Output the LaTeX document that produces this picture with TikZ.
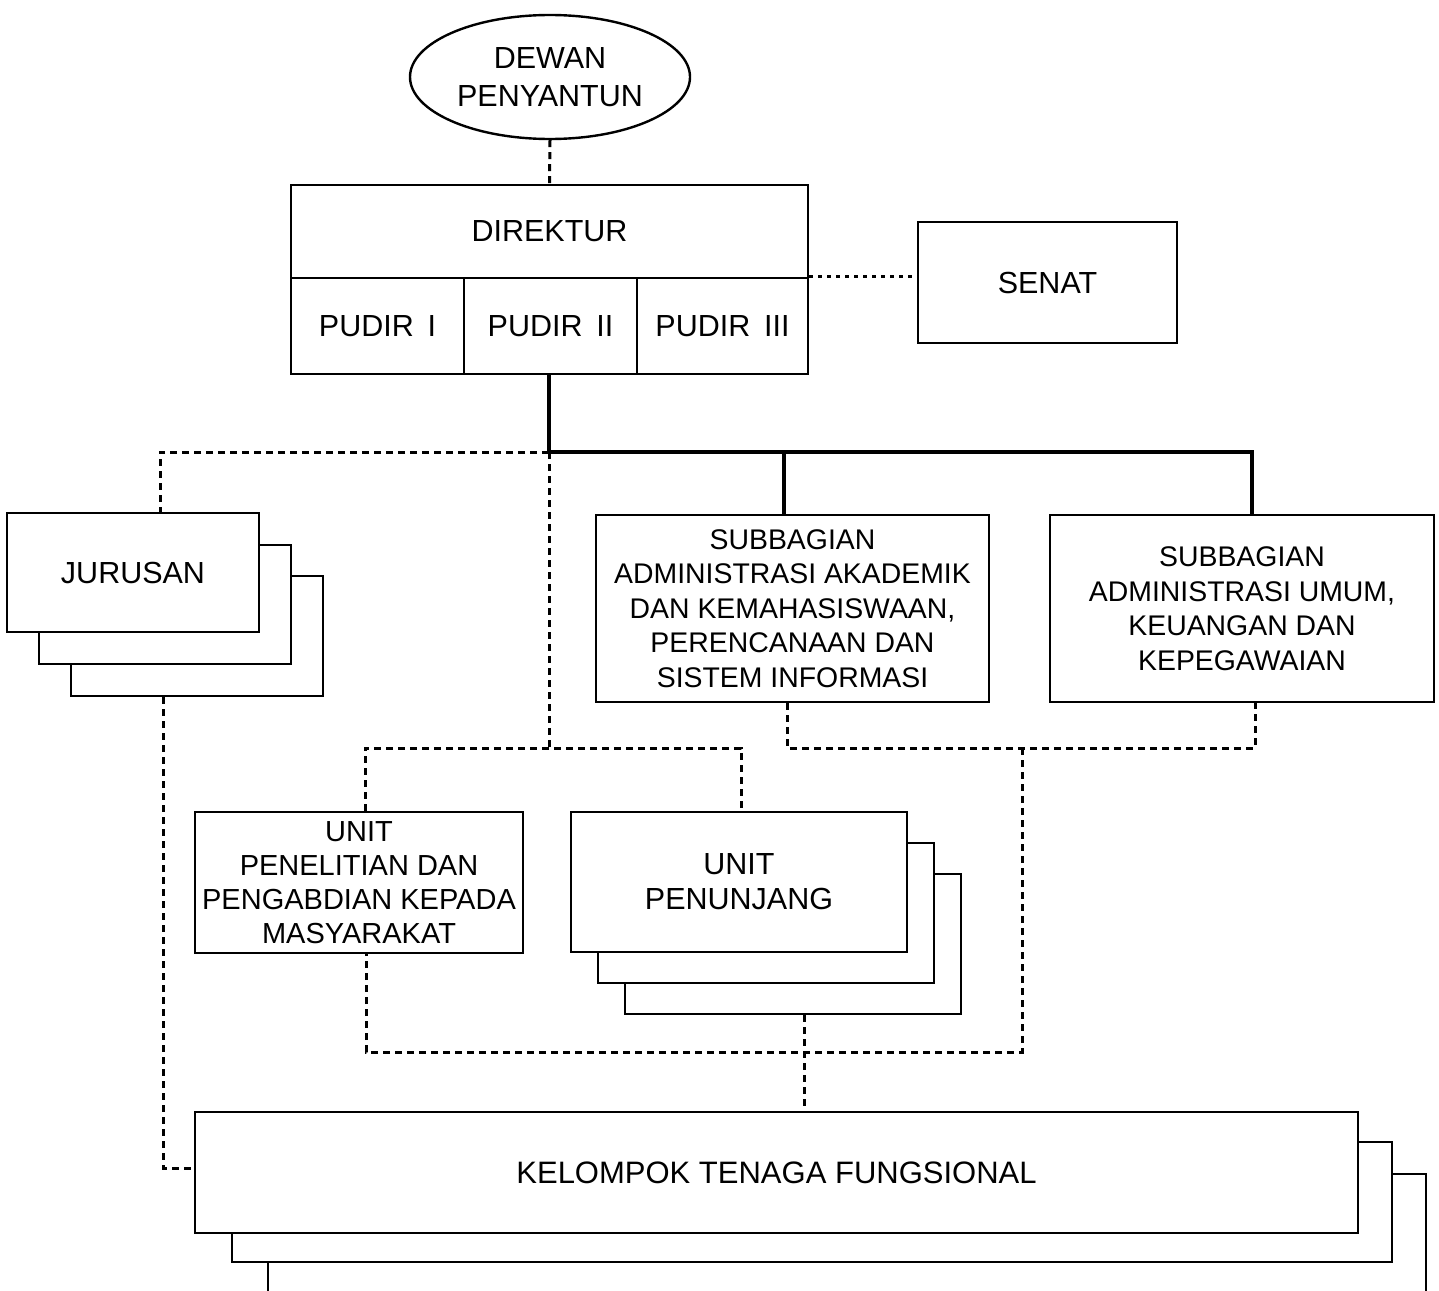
\documentclass[tikz,border=0pt]{standalone}
\usepackage{fontspec}
\setmainfont{Liberation Sans}
\usetikzlibrary{shapes.geometric}
\begin{document}
\begin{tikzpicture}[x=1pt,y=-1pt,
  box/.style={draw, line width=2.7pt, fill=white, inner sep=0pt, align=center,
              font=\fontsize{30.5}{35}\selectfont},
  smallbox/.style={box, font=\fontsize{28.4}{34.5}\selectfont},
  conn/.style={line width=3pt, dash pattern=on 7pt off 5pt},
  dotconn/.style={line width=3pt, dash pattern=on 4pt off 5pt},
  mainline/.style={line width=4pt},
]
\useasboundingbox (0,0) rectangle (1439,1290);
\fill[white] (0,0) rectangle (1439,1290);

% top
\node[ellipse, draw, line width=2.4pt, minimum width=280pt, minimum height=124pt, inner sep=0pt,
      align=center, font=\fontsize{30.5}{38}\selectfont] (dewan) at (550,77) {DEWAN\\PENYANTUN};
\node[box, minimum width=517pt, minimum height=93pt] (direktur) at (549.5,231.5) {DIREKTUR};
\node[box, minimum width=173pt, minimum height=96pt] (pudir1) at (377.5,326) {PUDIR\hspace{0.45em}I};
\node[box, minimum width=173pt, minimum height=96pt] (pudir2) at (550.5,326) {PUDIR\hspace{0.45em}II};
\node[box, minimum width=171pt, minimum height=96pt] (pudir3) at (722.5,326) {PUDIR\hspace{0.45em}III};
\node[box, minimum width=259pt, minimum height=121pt] (senat) at (1047.5,282.5) {SENAT};

% jurusan stack
\node[box, minimum width=252pt, minimum height=120pt] (jur3) at (197,636) {};
\node[box, minimum width=252pt, minimum height=119pt] (jur2) at (165,604.5) {};
\node[box, minimum width=252pt, minimum height=119pt] (jur1) at (133,572.5) {JURUSAN};

% subbagian
\node[smallbox, minimum width=393pt, minimum height=187pt] (sub1) at (792.5,608.5)
  {SUBBAGIAN\\ADMINISTRASI AKADEMIK\\DAN KEMAHASISWAAN,\\PERENCANAAN DAN\\SISTEM INFORMASI};
\node[smallbox, minimum width=384pt, minimum height=187pt] (sub2) at (1242,608.5)
  {SUBBAGIAN\\ADMINISTRASI UMUM,\\KEUANGAN DAN\\KEPEGAWAIAN};

% units
\node[smallbox, font=\fontsize{29}{34}\selectfont, minimum width=328pt, minimum height=141pt] (pen) at (359,882.5)
  {UNIT\\PENELITIAN DAN\\PENGABDIAN KEPADA\\MASYARAKAT};
\node[box, minimum width=336pt, minimum height=140pt] (pnj3) at (793,944) {};
\node[box, minimum width=336pt, minimum height=140pt] (pnj2) at (766,913) {};
\node[box, minimum width=336pt, minimum height=140pt] (pnj1) at (739,882) {UNIT\\PENUNJANG};

% kelompok stack
\begin{scope}
\clip (0,0) rectangle (1439,1290);
\node[box, minimum width=1158pt, minimum height=121pt] (kel3) at (847,1234.5) {};
\end{scope}
\node[box, minimum width=1160pt, minimum height=120pt] (kel2) at (812,1202) {};
\node[box, font=\fontsize{31}{36}\selectfont, minimum width=1163pt, minimum height=121pt] (kel1) at (776.5,1172.5)
  {KELOMPOK TENAGA FUNGSIONAL};

% junction coordinates
\coordinate (hubC) at (549,452);
\coordinate (j2) at (784,452);
\coordinate (hubR) at (1252,452);
\coordinate (jl) at (160,452);
\coordinate (ml) at (365,748);
\coordinate (mr) at (741,748);
\coordinate (sl) at (787,748);
\coordinate (sr) at (1255,748);
\coordinate (sm) at (1022,748);
\coordinate (bm) at (1022,1052);
\coordinate (bl) at (366,1052);
\coordinate (kv) at (804,1080);
\coordinate (jv) at (163,1168);

% connectors
\draw[conn] (dewan.south) -- (direktur.north);
\draw[dotconn] (pudir3.north east) -- (pudir3.north east -| senat.west);
\draw[mainline] (hubC |- pudir2.south) -- (hubC) -- (hubR) -- (hubR |- sub2.north);
\draw[mainline] (j2) -- (j2 |- sub1.north);
\draw[conn] (hubC) -- (jl) -- (jl |- jur1.north);
\draw[conn] (hubC) -- (hubC |- ml);
\draw[conn] (ml |- pen.north) -- (ml) -- (mr) -- (mr |- pnj1.north);
\draw[conn] (sl |- sub1.south) -- (sl) -- (sr) -- (sr |- sub2.south);
\draw[conn] (sm) -- (bm) -- (bl) -- (bl |- pen.south);
\draw[conn] (kv |- pnj3.south) -- (kv |- kel1.north);
\draw[conn] (jv |- jur3.south) -- (jv) -- (jv -| kel1.west);
\end{tikzpicture}
\end{document}
